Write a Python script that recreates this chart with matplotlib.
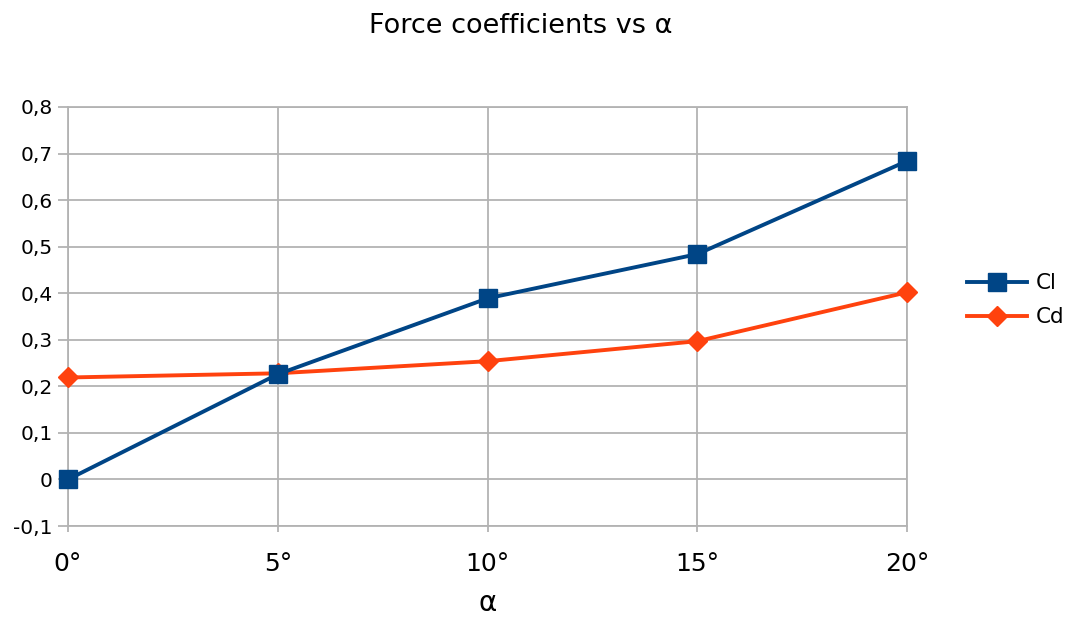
import matplotlib
matplotlib.use('Agg')
import matplotlib.pyplot as plt
from matplotlib.ticker import FuncFormatter

plt.rcParams['font.family'] = ['DejaVu Sans']

alfa = [0, 5, 10, 15, 20]
etiquetas_x = ['0°', '5°', '10°', '15°', '20°']
cl = [0.0, 0.226, 0.389, 0.484, 0.684]
cd = [0.219, 0.228, 0.254, 0.297, 0.402]

azul = '#004586'
naranja = '#ff420e'
gris = '#b3b3b3'

fig = plt.figure(figsize=(10.69, 6.19), dpi=100)
ax = fig.add_axes([0.0636, 0.1502, 0.785, 0.677])

ax.plot(alfa, cl, color=azul, lw=2.8, marker='s', markersize=12.5, label='Cl', zorder=4)
ax.plot(alfa, cd, color=naranja, lw=2.8, marker='D', markersize=10.5, label='Cd', zorder=3)

ax.set_xlim(0, 20)
ax.set_ylim(-0.1, 0.8)
ax.set_xticks(alfa)
ax.set_xticklabels(etiquetas_x)
ax.set_yticks([i / 10 for i in range(-1, 9)])
ax.yaxis.set_major_formatter(FuncFormatter(lambda v, p: ('%g' % round(v, 1)).replace('.', ',')))

ax.grid(True, color=gris, lw=1.3)
ax.set_axisbelow(True)
for s in ax.spines.values():
    s.set_color(gris)
    s.set_linewidth(1.3)
ax.tick_params(axis='y', length=7, color=gris, width=1.3, labelsize=14.5, pad=4)
ax.tick_params(axis='x', length=4, color=gris, width=1.3, labelsize=18, pad=15)
for m in ax.lines:
    m.set_clip_on(False)

ax.set_xlabel('α', fontsize=20, labelpad=9)
fig.suptitle('Force coefficients vs α', fontsize=19.5, x=0.487, y=0.958, va='center')

fig.legend(*ax.get_legend_handles_labels(), loc='center left', bbox_to_anchor=(0.886, 0.515),
           frameon=False, fontsize=15.5, handlelength=2.8, handletextpad=0.4, labelspacing=0.65)

fig.savefig('out.png', dpi=100)
